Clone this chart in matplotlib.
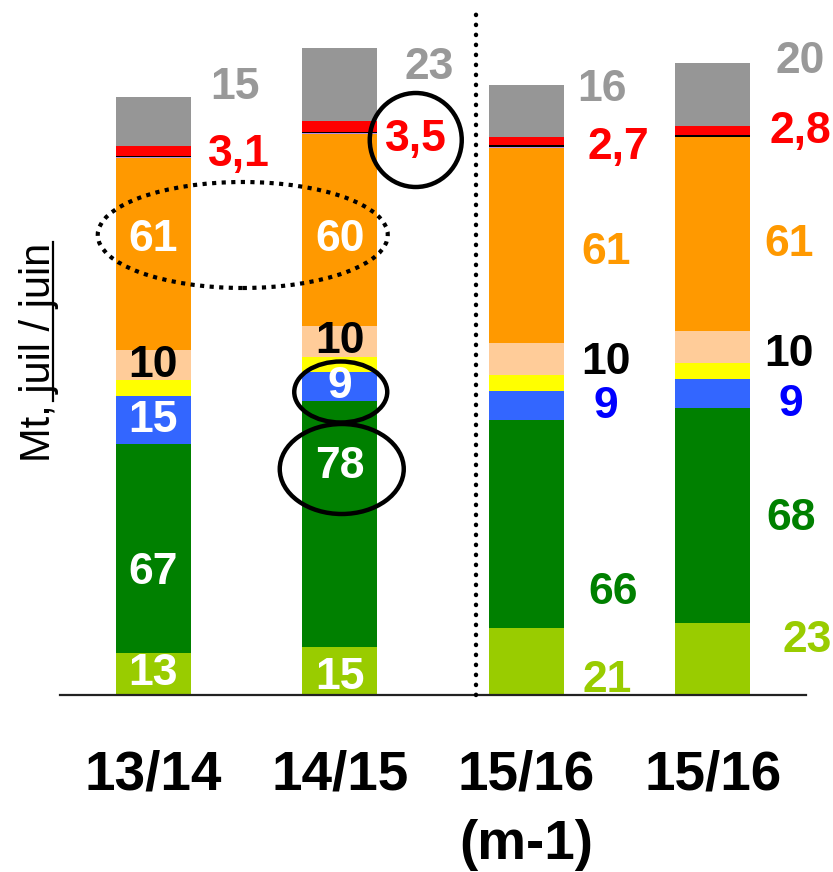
import matplotlib
matplotlib.use("Agg")
import matplotlib.pyplot as plt
from matplotlib.patches import Ellipse
from matplotlib.lines import Line2D
import numpy as np

plt.rcParams['font.family'] = ['Liberation Sans', 'DejaVu Sans']

# ---------------- data ----------------
categories = ["13/14", "14/15", "15/16\n(m-1)", "15/16"]

light_green = [13.3, 15.2, 21.2, 22.9]
dark_green = [66.3, 78.1, 66.0, 68.3]
blue = [15.2, 9.2, 9.2, 9.2]
yellow = [5.1, 4.8, 5.1, 5.1]
peach = [9.5, 9.8, 10.2, 10.2]
orange = [61.0, 61.0, 62.0, 61.6]
purple = [0.5, 0.4, 0.4, 0.0]
black = [0.35, 0.35, 0.4, 0.6]
red = [3.1, 3.5, 2.7, 2.8]
gray = [15.5, 23.2, 16.5, 20.0]

lab_light_green = ["13", "15", "21", "23"]
lab_dark_green = ["67", "78", "66", "68"]
lab_blue = ["15", "9", "9", "9"]
lab_peach = ["10", "10", "10", "10"]
lab_orange = ["61", "60", "61", "61"]
lab_red = ["3,1", "3,5", "2,7", "2,8"]
lab_gray = ["15", "23", "16", "20"]

series = [
    (light_green, "#99CC00"),
    (dark_green, "#008000"),
    (blue, "#3366FF"),
    (yellow, "#FFFF00"),
    (peach, "#FFCC99"),
    (orange, "#FF9900"),
    (purple, "#B48CE6"),
    (black, "#000000"),
    (red, "#FF0000"),
    (gray, "#969696"),
]

# ---------------- figure ----------------
W, H = 833, 872
fig = plt.figure(figsize=(W / 100, H / 100), dpi=100)
PXU = 3.15  # px per unit
ax = fig.add_axes([60 / W, 177 / H, 746 / W, 695 / H])
ax.set_xlim(-0.5, 3.5)
ax.set_ylim(0, 695 / PXU)
for s in ["top", "right", "left"]:
    ax.spines[s].set_visible(False)
ax.spines["bottom"].set_linewidth(1.6)
ax.spines["bottom"].set_color("#222222")
ax.set_xticks([])
ax.set_yticks([])

x = np.arange(len(categories))
bottom = np.zeros(len(categories))
bottoms = []
for vals, col in series:
    bottoms.append(bottom.copy())
    ax.bar(x, vals, width=0.4, bottom=bottom, color=col, linewidth=0, zorder=2)
    bottom = bottom + np.array(vals)

FS = 32

def put(xv, yv, s, color):
    ax.text(xv, yv, s, ha="center", va="center", fontsize=FS,
            fontweight="bold", color=color, zorder=5, clip_on=False)

def px2dx(px, i):
    return (px - (152.5 + 186.5 * i)) / 186.5

def py2y(py):
    return (695 - py) / PXU

# labels for the first two bars (inside)
inside_y = {
    "lg": [py2y(673), py2y(677)],
    "dg": [py2y(573), py2y(467)],
}
for i in range(2):
    put(i, inside_y["lg"][i], lab_light_green[i], "white")
    put(i, inside_y["dg"][i], lab_dark_green[i], "white")
    put(i, bottoms[2][i] + blue[i] / 2, lab_blue[i], "white")
    put(i, bottoms[4][i] + peach[i] / 2, lab_peach[i], "black")
    put(i, py2y(240), lab_orange[i], "white")

# outside labels, first two bars
put(px2dx(238, 0), py2y(155), lab_red[0], "#FF0000")
put(px2dx(234, 0), py2y(88), lab_gray[0], "#999999")
put(1 + px2dx(415, 1), py2y(140), lab_red[1], "#FF0000")
put(1 + px2dx(428, 1), py2y(68), lab_gray[1], "#999999")

# outside labels, last two bars
out = {
    2: dict(lg=(606, 680), dg=(612, 592), bl=(605, 406), pe=(605, 362),
            orr=(605, 253), rd=(618, 148), gr=(601, 90)),
    3: dict(lg=(806, 640), dg=(790, 518), bl=(790, 404), pe=(788, 355),
            orr=(788, 245), rd=(800, 132), gr=(799, 62)),
}
for i in (2, 3):
    o = out[i]
    put(i + px2dx(o["lg"][0], i), py2y(o["lg"][1]), lab_light_green[i], "#99CC00")
    put(i + px2dx(o["dg"][0], i), py2y(o["dg"][1]), lab_dark_green[i], "#008000")
    put(i + px2dx(o["bl"][0], i), py2y(o["bl"][1]), lab_blue[i], "#0000FF")
    put(i + px2dx(o["pe"][0], i), py2y(o["pe"][1]), lab_peach[i], "black")
    put(i + px2dx(o["orr"][0], i), py2y(o["orr"][1]), lab_orange[i], "#FF9900")
    put(i + px2dx(o["rd"][0], i), py2y(o["rd"][1]), lab_red[i], "#FF0000")
    put(i + px2dx(o["gr"][0], i), py2y(o["gr"][1]), lab_gray[i], "#999999")

# category labels
for i, c in enumerate(categories):
    lines = c.split("\n")
    for k, ln in enumerate(lines):
        fig.text((153.5 + 186.5 * i) / W, 1 - (775 + 70 * k) / H, ln,
                 ha="center", va="center", fontsize=39.5, fontweight="bold",
                 color="black")

# divider
ax.plot([px2dx(475, 0)] * 2, [0, py2y(10)], color="black", lw=3.2,
        linestyle=(0, (0.05, 2.2)), dash_capstyle="round", clip_on=False,
        zorder=3)

# annotation ellipses
def ell(cx, cy, w, h, ls="-", lw=3.2):
    e = Ellipse((px2dx(cx, 0), py2y(cy)), w / 186.5, h / PXU, fill=False,
                edgecolor="black", lw=lw, linestyle=ls, clip_on=False, zorder=6)
    ax.add_patch(e)

ell(242, 235, 290, 106, ls=(0, (1, 1.3)), lw=3.0)
ell(415, 140, 92, 94)
ell(340, 392, 93, 61)
ell(341, 469, 124, 90)

# y label with underline
ylab_fs = 30
t = fig.text(50 / W, 1 - 352 / H, "Mt, juil / juin", rotation=90,
             rotation_mode="anchor", ha="center", va="baseline",
             fontsize=ylab_fs, color="black")
fig.canvas.draw()
r = fig.canvas.get_renderer()
ext = t.get_window_extent(r)
tmp = fig.text(0, 0, "juil / juin", fontsize=ylab_fs)
wj = tmp.get_window_extent(r).width
tmp.remove()
top = ext.y1
fig.add_artist(Line2D([53 / W, 53 / W], [top / H, (top - wj - 9) / H],
                      color="black", lw=1.6, transform=fig.transFigure))

fig.savefig("out.png", dpi=100)
